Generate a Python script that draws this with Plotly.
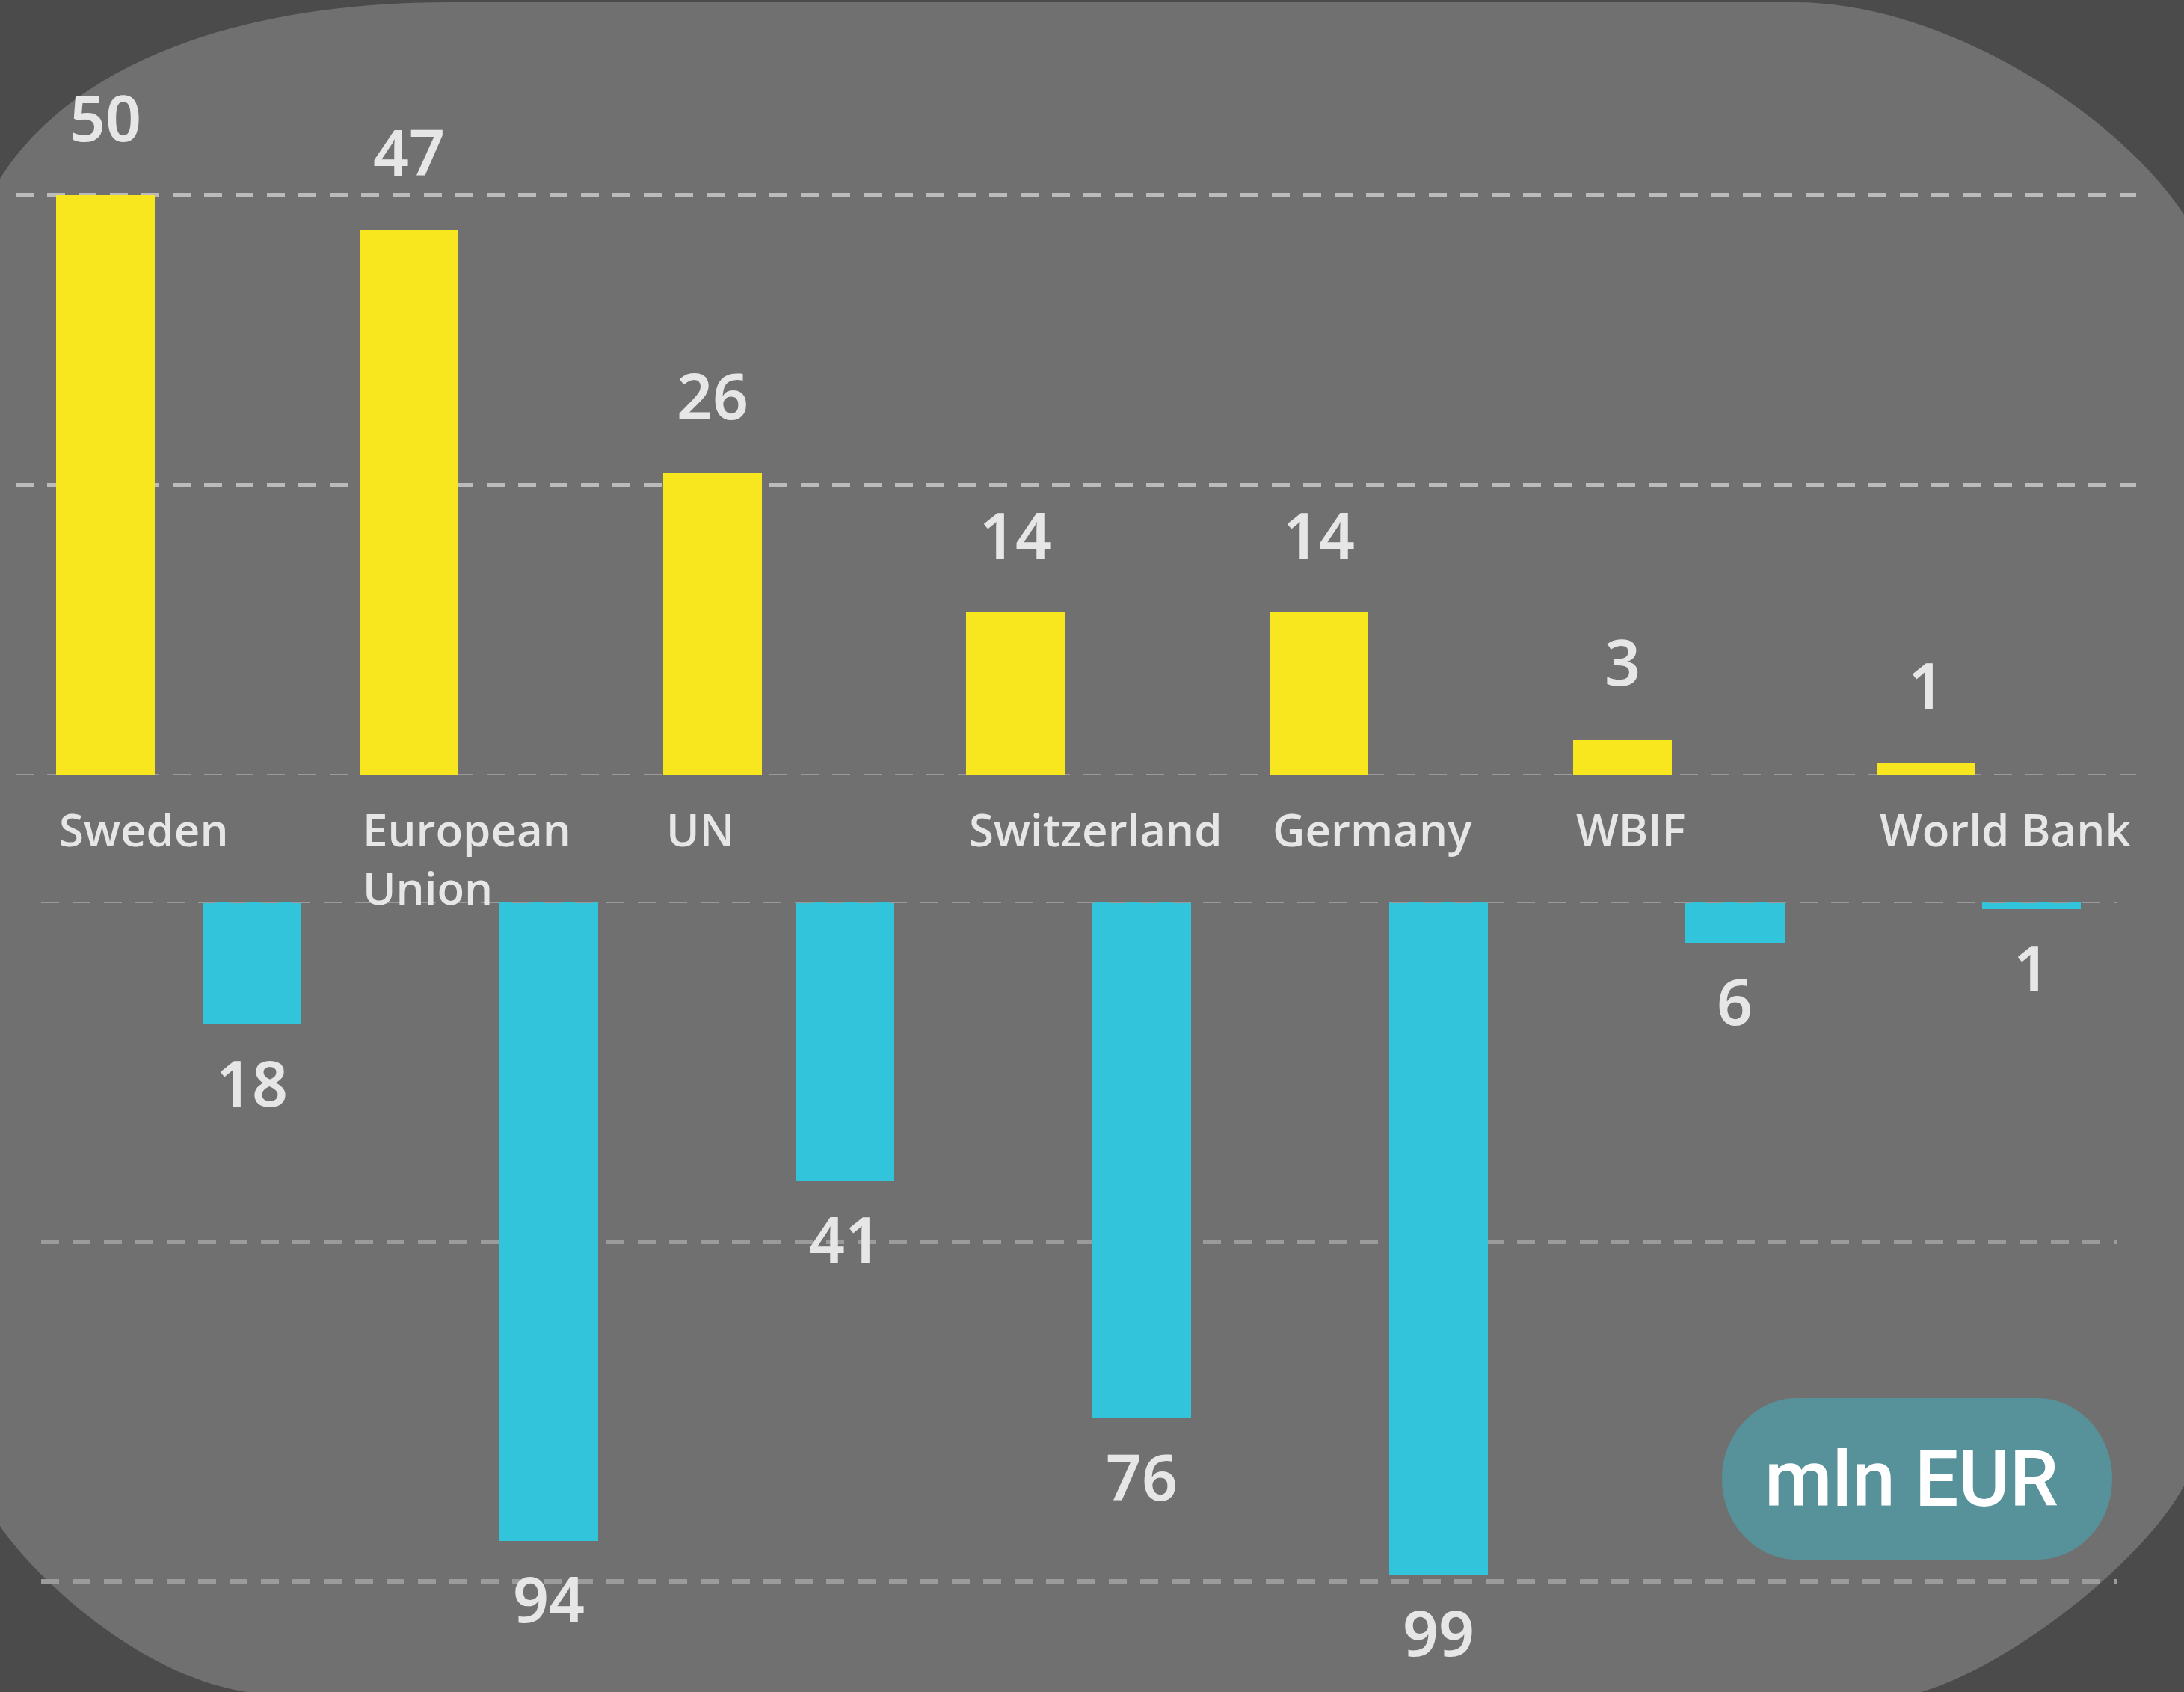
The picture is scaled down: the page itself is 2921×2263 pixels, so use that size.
import plotly.graph_objects as go

W, H = 2921, 2263

# ---- data ----
categories = ["Sweden", "European Union", "UN", "Switzerland", "Germany", "WBIF", "World Bank"]
values_top = [50, 47, 26, 14, 14, 3, 1]
values_bottom = [18, 94, 41, 76, 99, 6, 1]
top_ticks = [25, 50]
bottom_ticks = [50, 100]
unit_label = "mln EUR"

# ---- style ----
OUTER_BG = "#4b4b4b"
INNER_BG = "#707070"
YELLOW = "#f8e71e"
CYAN = "#32c4da"
BADGE = "#57919a"
TEXT = "#e6e6e6"
NUM_FONT = "Noto Sans, Open Sans, sans-serif"
CAT_FONT = "Open Sans, Lato, sans-serif"
BADGE_FONT = "Roboto, Liberation Sans, sans-serif"
W_TOP = 0.325
W_BOT = 0.333


def P(x, y):
    return f"{x / W:.6f},{1 - y / H:.6f}"


def path(cmds):
    out = []
    for c in cmds:
        op, pts = c[0], c[1:]
        out.append(op + " ".join(P(*p) for p in pts))
    return " ".join(out) + " Z"


pos = list(range(len(categories)))

fig = go.Figure()
fig.add_trace(go.Bar(x=pos, y=values_top, width=W_TOP, xaxis="x", yaxis="y",
                     marker=dict(color=YELLOW, line=dict(width=0)), hoverinfo="skip"))
fig.add_trace(go.Bar(x=pos, y=values_bottom, width=W_BOT, xaxis="x2", yaxis="y2",
                     marker=dict(color=CYAN, line=dict(width=0)), hoverinfo="skip"))

shapes = []
# dark outer corners around the light rounded panel (panel = paper background)
corner_top = path([
    ("M", (0, 0)),
    ("L", (0, 239)),
    ("C", (90, 95), (300, 3), (600, 3)),
    ("L", (2400, 3)),
    ("C", (2600, 3), (2830, 150), (W, 287)),
    ("L", (W, 0)),
])
corner_br = path([
    ("M", (W, H)),
    ("L", (W, 1987)),
    ("C", (2871, 2082), (2700, 2223), (2570, H)),
])
corner_bl = path([
    ("M", (0, H)),
    ("L", (0, 2041)),
    ("C", (40, 2101), (180, 2240), (330, H)),
])
for pth in (corner_top, corner_br, corner_bl):
    shapes.append(dict(type="path", xref="paper", yref="paper", path=pth,
                       fillcolor=OUTER_BG, line=dict(width=0), layer="below"))

# baselines
shapes.append(dict(type="line", xref="x domain", yref="y", x0=0, x1=1, y0=0, y1=0,
                   line=dict(color="#9a9a9a", width=2, dash="24px,18px"), layer="below"))
shapes.append(dict(type="line", xref="x2 domain", yref="y2", x0=0, x1=1, y0=0, y1=0,
                   line=dict(color="#9a9a9a", width=2, dash="24px,18px"), layer="above"))

# unit badge
k = 0.5523
x0b, x1b, y0b, y1b = 2303, 2825, 1870, 2086
rx, ry = 100, (y1b - y0b) / 2
cy = (y0b + y1b) / 2
badge = path([
    ("M", (x0b + rx, y0b)),
    ("L", (x1b - rx, y0b)),
    ("C", (x1b - rx + k * rx, y0b), (x1b, cy - k * ry), (x1b, cy)),
    ("C", (x1b, cy + k * ry), (x1b - rx + k * rx, y1b), (x1b - rx, y1b)),
    ("L", (x0b + rx, y1b)),
    ("C", (x0b + rx - k * rx, y1b), (x0b, cy + k * ry), (x0b, cy)),
    ("C", (x0b, cy - k * ry), (x0b + rx - k * rx, y0b), (x0b + rx, y0b)),
])
shapes.append(dict(type="path", xref="paper", yref="paper", path=badge,
                   fillcolor=BADGE, line=dict(width=0), layer="above"))

annotations = []
for i, v in enumerate(values_top):
    annotations.append(dict(x=i, y=v, xref="x", yref="y", text=str(v), showarrow=False,
                            xanchor="center", yanchor="middle", yshift=105,
                            font=dict(family=NUM_FONT, size=84, color=TEXT, weight=600)))
for i, v in enumerate(values_bottom):
    annotations.append(dict(x=i, y=v, xref="x2", yref="y2", text=str(v), showarrow=False,
                            xanchor="center", yanchor="middle", yshift=-77,
                            font=dict(family=NUM_FONT, size=84, color=TEXT, weight=600)))
for i, c in enumerate(categories):
    txt = c.replace(" ", "<br>", 1) if len(c) > 12 else c
    annotations.append(dict(x=i - W_TOP / 2, y=0, xref="x", yref="y", text=txt,
                            showarrow=False, xanchor="left", yanchor="top", align="left",
                            xshift=2, yshift=-30,
                            font=dict(family=CAT_FONT, size=60, color=TEXT, weight=600)))
annotations.append(dict(x=2556 / W, y=1 - 1978 / H, xref="paper", yref="paper",
                        text=unit_label, showarrow=False, xanchor="center", yanchor="middle",
                        font=dict(family=BADGE_FONT, size=104, color="#ffffff", weight=500)))

top_scale = 15.5   # px per unit (top panel)
bot_scale = 9.08   # px per unit (bottom panel)
grid_common = dict(showticklabels=False, ticks="", zeroline=False, showline=False,
                   showgrid=True, griddash="24px,18px", gridwidth=6, fixedrange=True)

fig.update_layout(
    width=W, height=H,
    margin=dict(l=0, r=0, t=0, b=0),
    paper_bgcolor=INNER_BG, plot_bgcolor="rgba(0,0,0,0)",
    showlegend=False, bargap=0,
    xaxis=dict(domain=[21 / W, 2857 / W], range=[-0.2957, 6.693], visible=False, anchor="y"),
    yaxis=dict(domain=[1 - 1036 / H, 1], range=[0, 1036 / top_scale], tickvals=top_ticks,
               gridcolor="#bbbbbb", anchor="x", **grid_common),
    xaxis2=dict(domain=[55 / W, 2831 / W], range=[-0.7109, 6.2869], visible=False, anchor="y2"),
    yaxis2=dict(domain=[0, 1 - 1207 / H], range=[(H - 1207) / bot_scale, 0], tickvals=bottom_ticks,
                gridcolor="#9b9b9b", anchor="x2", **grid_common),
    shapes=shapes,
    annotations=annotations,
)

fig.write_html(
    "out.html",
    config={"displayModeBar": False, "responsive": False},
    post_script=(
        "var de=document.documentElement, b=document.body;"
        "de.style.overflow='hidden'; de.style.margin='0'; de.style.scrollbarWidth='none';"
        "b.style.margin='0'; b.style.overflow='hidden'; b.style.scrollbarWidth='none';"
        "b.style.background='" + INNER_BG + "'; window.scrollTo(0,0);"
    ),
)
